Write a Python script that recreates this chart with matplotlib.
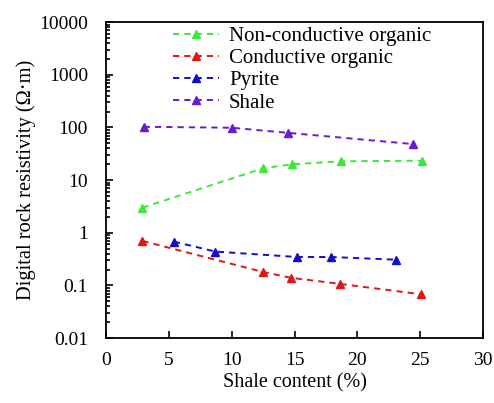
import matplotlib
matplotlib.use("Agg")
import matplotlib.pyplot as plt
from matplotlib.ticker import LogLocator, FixedLocator

plt.rcParams['font.family'] = ['Liberation Serif', 'DejaVu Serif']

# shale content (%) and resistivity (ohm*m) for each inclusion type
non_cond_x = [2.9, 12.5, 14.8, 18.7, 25.1]
non_cond_y = [3.0, 16.8, 20.0, 22.8, 23.4]

cond_x = [2.9, 12.5, 14.7, 18.65, 25.05]
cond_y = [0.70, 0.18, 0.14, 0.107, 0.068]

pyrite_x = [5.4, 8.7, 15.2, 17.9, 23.1]
pyrite_y = [0.68, 0.44, 0.347, 0.347, 0.308]

shale_x = [3.0, 10.0, 14.5, 24.4]
shale_y = [103, 99, 79, 48.5]

fig = plt.figure(figsize=(4.94, 4.03), dpi=100)
ax = fig.add_axes([0.2146, 0.161, 0.7634, 0.784])

dash = (0, (3.2, 2.6))
style = dict(ls=dash, marker='^', lw=1.4, ms=6)
ax.plot(non_cond_x, non_cond_y, color='#3de83d', label='Non-conductive organic', **style)
ax.plot(cond_x, cond_y, color='#e01515', label='Conductive organic', **style)
ax.plot(pyrite_x, pyrite_y, color='#1010c8', label='Pyrite', **style)
ax.plot(shale_x, shale_y, color='#6a1ad0', label='Shale', **style)

ax.set_yscale('log')
ax.set_ylim(0.01, 10000)
ax.set_xlim(0, 30)
ax.set_xticks([0, 5, 10, 15, 20, 25, 30])
ax.yaxis.set_major_locator(FixedLocator([0.01, 0.1, 1, 10, 100, 1000, 10000]))
ax.set_yticklabels(['0.01', '0.1', '1', '10', '100', '1000', '10000'])
ax.yaxis.set_minor_locator(LogLocator(base=10, subs=range(2, 10), numticks=20))

ax.tick_params(axis='both', which='both', direction='in', labelsize=14,
               top=False, right=False, width=1.2)
ax.tick_params(axis='x', which='major', length=5, pad=10)
ax.tick_params(axis='y', which='major', length=5, pad=13)
ax.tick_params(axis='y', which='minor', length=3, labelleft=False)
for s in ax.spines.values():
    s.set_linewidth(1.3)

ax.set_xlabel('Shale content (%)', fontsize=14.5, labelpad=3)
ax.set_ylabel('Digital rock resistivity (\u03a9\u00b7m)', fontsize=14.8)
ax.yaxis.set_label_coords(-0.185, 0.5)

ax.legend(loc='upper left', bbox_to_anchor=(0.155, 1.012), frameon=False, fontsize=15,
          handlelength=2.2, labelspacing=0.12, handletextpad=0.5, borderaxespad=0.0,
          markerscale=0.9)

fig.savefig('out.png', dpi=100)
